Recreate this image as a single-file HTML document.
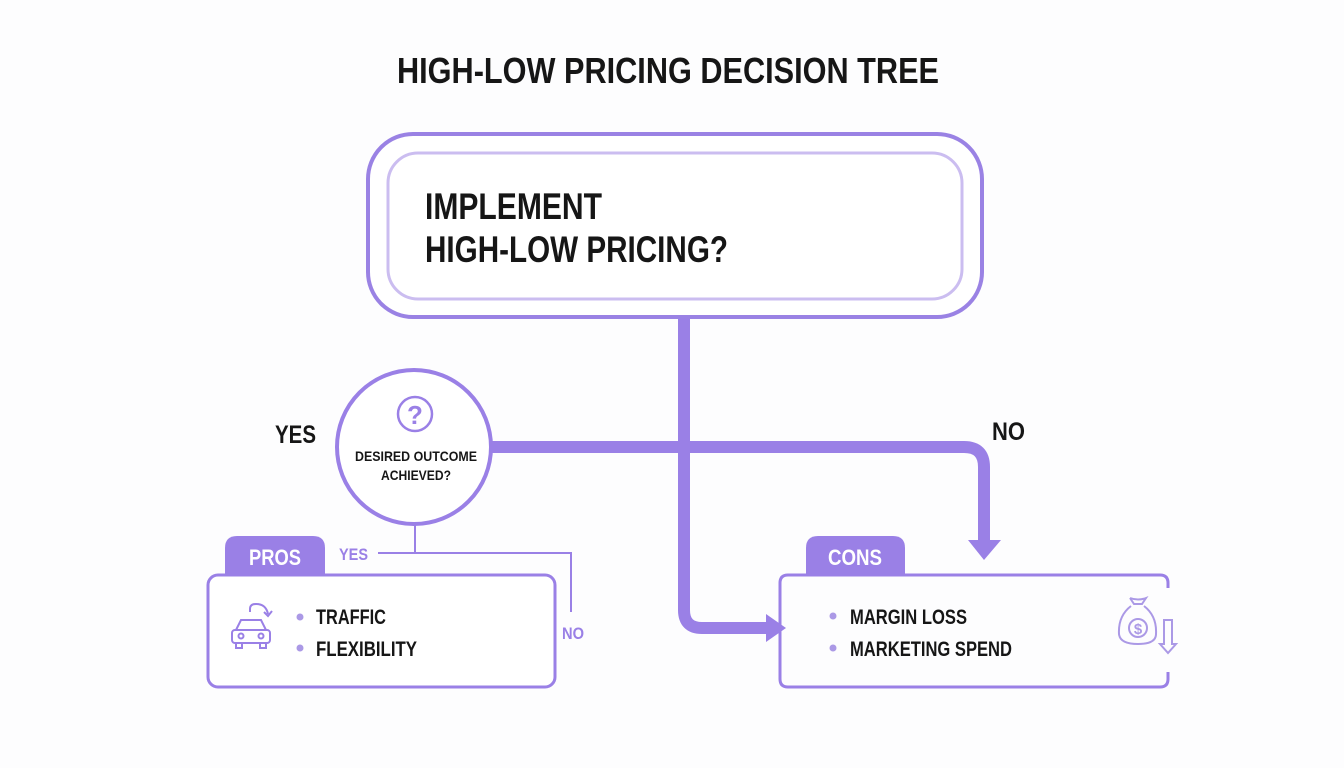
<!DOCTYPE html>
<html><head><meta charset="utf-8"><style>
html,body{margin:0;padding:0;background:#fdfdfe;}
svg{display:block;}
text{font-family:"Liberation Sans Narrow","Liberation Sans",sans-serif;font-weight:bold;}
</style></head><body>
<svg width="1344" height="768" viewBox="0 0 1344 768" xmlns="http://www.w3.org/2000/svg">
<rect width="1344" height="768" fill="#fdfdfe"/>
<text x="397" y="83" font-size="36" fill="#161616" textLength="542" lengthAdjust="spacingAndGlyphs">HIGH-LOW PRICING DECISION TREE</text>

<!-- top box -->
<rect x="368" y="134" width="614" height="183" rx="45" fill="#fff" stroke="#9a82e4" stroke-width="4"/>
<rect x="388" y="153" width="574" height="146" rx="30" fill="#fff" stroke="#cbbdf0" stroke-width="3"/>
<text x="425" y="219" font-size="37" fill="#161616" textLength="177" lengthAdjust="spacingAndGlyphs">IMPLEMENT</text>
<text x="425" y="262" font-size="37" fill="#161616" textLength="303" lengthAdjust="spacingAndGlyphs">HIGH-LOW PRICING?</text>

<!-- thick connectors -->
<g fill="none" stroke="#9a80e6" stroke-width="12">
<path d="M684 318 V610 Q684 628 702 628 H768"/>
<path d="M490 447 H964 Q984 447 984 467 V542"/>
</g>
<polygon points="766,614 786,628 766,642" fill="#9a80e6"/>
<polygon points="968,540 1001,540 984,560" fill="#9a80e6"/>

<!-- circle -->
<circle cx="414" cy="447" r="77" fill="#fff" stroke="#9a80e6" stroke-width="4"/>
<circle cx="415" cy="414" r="17" fill="none" stroke="#9a80e6" stroke-width="2.5"/>
<text x="415" y="424" font-size="26" fill="#9a80e6" text-anchor="middle">?</text>
<text x="416" y="461" font-size="14" fill="#161616" text-anchor="middle" textLength="122" lengthAdjust="spacingAndGlyphs">DESIRED OUTCOME</text>
<text x="416" y="480" font-size="14" fill="#161616" text-anchor="middle" textLength="70" lengthAdjust="spacingAndGlyphs">ACHIEVED?</text>

<text x="275" y="443" font-size="25" fill="#161616" textLength="41" lengthAdjust="spacingAndGlyphs">YES</text>
<text x="992" y="440" font-size="25" fill="#161616" textLength="33" lengthAdjust="spacingAndGlyphs">NO</text>

<!-- thin connectors -->
<g fill="none" stroke="#9a80e6" stroke-width="2">
<path d="M415 524 V553 M378 553 H571 V612"/>
</g>
<text x="339" y="560" font-size="17" fill="#9a80e6" textLength="29" lengthAdjust="spacingAndGlyphs">YES</text>
<text x="562" y="639" font-size="17" fill="#9a80e6" textLength="22" lengthAdjust="spacingAndGlyphs">NO</text>

<!-- PROS -->
<path d="M225 576 V548 Q225 536 237 536 H313 Q325 536 325 548 V576 Z" fill="#9a80e6"/>
<text x="249" y="565" font-size="22" fill="#fff" textLength="52" lengthAdjust="spacingAndGlyphs">PROS</text>
<rect x="208" y="575" width="347" height="112" rx="10" fill="#fff" stroke="#9a80e6" stroke-width="3"/>
<g fill="none" stroke="#9a80e6" stroke-width="2">
<path d="M236 630 L241 620 H261 L266 630 Z"/>
<rect x="232" y="630" width="38" height="13" rx="3"/>
<circle cx="241" cy="636" r="2.5"/><circle cx="261" cy="636" r="2.5"/>
<path d="M236 643 V648 H242 V643 M260 643 V648 H266 V643"/>
<path d="M250 612 V609 Q250 604 256 604 Q266 604 268 614"/>
<path d="M264 612 L268 616 L272 611"/>
</g>
<circle cx="300" cy="617" r="3.5" fill="#ab99e6"/>
<circle cx="300" cy="648" r="3.5" fill="#ab99e6"/>
<text x="316" y="624" font-size="21" fill="#161616" textLength="70" lengthAdjust="spacingAndGlyphs">TRAFFIC</text>
<text x="316" y="656" font-size="21" fill="#161616" textLength="101" lengthAdjust="spacingAndGlyphs">FLEXIBILITY</text>

<!-- CONS -->
<path d="M806 576 V548 Q806 536 818 536 H893 Q905 536 905 548 V576 Z" fill="#9a80e6"/>
<text x="828" y="565" font-size="22" fill="#fff" textLength="54" lengthAdjust="spacingAndGlyphs">CONS</text>
<path d="M1168 588 V583 Q1168 575 1160 575 H788 Q780 575 780 583 V679 Q780 687 788 687 H1160 Q1168 687 1168 679 V672" fill="none" stroke="#9a80e6" stroke-width="3"/>
<circle cx="833" cy="616" r="3.5" fill="#ab99e6"/>
<circle cx="833" cy="648" r="3.5" fill="#ab99e6"/>
<text x="850" y="624" font-size="21" fill="#161616" textLength="117" lengthAdjust="spacingAndGlyphs">MARGIN LOSS</text>
<text x="850" y="656" font-size="21" fill="#161616" textLength="162" lengthAdjust="spacingAndGlyphs">MARKETING SPEND</text>
<g fill="none" stroke="#ab99e6" stroke-width="2">
<path d="M1131 606 Q1118 616 1119 634 Q1120 644 1138 644 Q1156 644 1156 634 Q1157 616 1144 606"/>
<path d="M1130 598 L1134 604 H1142 L1146 598 Q1138 601 1130 598"/>
<circle cx="1138" cy="628" r="9"/>
<path d="M1164 620 V644 H1160 L1168 653 L1176 644 H1172 V620 Z"/>
</g>
<text x="1138" y="634" font-size="15" fill="#ab99e6" text-anchor="middle">$</text>
</svg>
</body></html>
